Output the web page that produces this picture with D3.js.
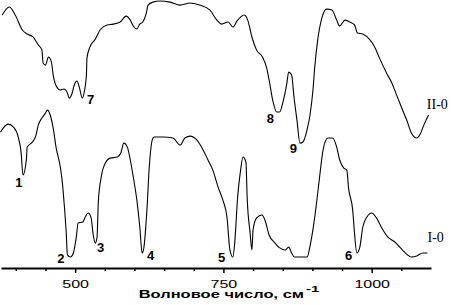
<!DOCTYPE html>
<html>
<head>
<meta charset="utf-8">
<script src="https://cdn.jsdelivr.net/npm/d3@7"></script>
<style>
  body { margin: 0; background: #fff; }
  svg { display: block; }
</style>
</head>
<body>
<svg class="spectrum"></svg>
<script>
// wavenumber, cm-1 and transmission, %
const wnII = [377, 389, 399, 411, 419, 429, 438, 444, 446, 450, 455, 460, 463, 470, 475, 481, 487, 490, 495, 498,
  503, 507, 512, 515, 519, 520, 525, 534, 542, 554, 564, 576, 586, 593, 598, 604, 609, 614, 620, 623,
  631, 643, 660, 677, 694, 710, 727, 739, 747, 758, 766, 773, 785, 791, 798, 806, 816, 823, 828, 833,
  840, 845, 850, 857, 860, 865, 869, 874, 879, 884, 891, 896, 901, 904, 909, 916, 924, 933, 941, 946,
  955, 963, 971, 976, 985, 997, 1005, 1013, 1025, 1034, 1042, 1050, 1059, 1067, 1076, 1081, 1088, 1096]
const tII = [94.4, 97.4, 94.4, 88.8, 87.3, 86.2, 83.2, 81.3, 76.5, 75.7, 78.7, 76.9, 72.0, 67.2, 66.4, 66.8, 65.3, 63.4, 65.3, 67.9,
  69.8, 67.5, 63.4, 65.3, 72.0, 78.4, 82.5, 85.4, 88.8, 90.7, 91.0, 91.8, 94.0, 92.5, 90.3, 89.2, 91.0, 91.8, 95.1, 98.1,
  99.2, 99.6, 99.2, 98.1, 98.9, 98.1, 96.3, 92.5, 91.0, 91.8, 89.9, 92.2, 94.4, 92.5, 86.2, 81.3, 78.7, 74.6, 69.0, 62.7,
  58.2, 58.2, 61.6, 69.0, 73.1, 72.0, 63.8, 55.2, 46.6, 47.0, 51.5, 57.1, 66.4, 75.0, 85.1, 93.3, 96.6, 96.3, 92.5, 90.3,
  92.5, 91.8, 90.7, 87.7, 87.3, 85.1, 82.5, 78.4, 72.8, 69.0, 64.5, 60.1, 55.2, 50.4, 48.5, 49.6, 53.4, 57.1]

const wnI = [374, 387, 396, 404, 409, 412, 418, 419, 428, 433, 438, 444, 450, 453, 458, 463, 468, 475, 478, 481,
  485, 487, 492, 497, 502, 505, 513, 517, 522, 527, 530, 534, 537, 539, 544, 551, 559, 571, 577, 582,
  588, 593, 598, 604, 609, 613, 616, 621, 625, 630, 633, 648, 665, 677, 685, 694, 705, 714, 724, 732,
  741, 749, 756, 761, 766, 769, 774, 779, 783, 788, 790, 795, 798, 800, 806, 815, 820, 827, 837, 845,
  854, 860, 865, 870, 891, 897, 904, 911, 918, 926, 934, 941, 946, 953, 958, 961, 968, 971, 975, 980,
  985, 992, 1000, 1008, 1017, 1027, 1039, 1052, 1067, 1076, 1086, 1094]
const tI = [50.7, 53.7, 52.6, 48.9, 42.9, 34.7, 41.0, 45.1, 47.0, 48.9, 53.4, 56.0, 57.8, 58.9, 57.1, 52.2, 44.8, 37.7, 32.8, 25.4,
  13.1, 4.9, 4.1, 5.6, 11.6, 16.8, 17.2, 19.0, 20.5, 18.7, 13.1, 9.3, 11.6, 24.3, 34.0, 39.2, 41.0, 41.4, 42.9, 46.6,
  45.1, 40.3, 34.0, 25.4, 15.3, 5.6, 7.8, 21.6, 37.7, 47.8, 48.9, 48.9, 48.5, 45.9, 48.5, 49.2, 47.8, 44.8, 40.3, 36.6,
  30.2, 25.4, 19.0, 6.7, 4.1, 9.3, 26.5, 36.6, 41.4, 39.5, 26.5, 13.1, 6.7, 14.2, 18.7, 19.8, 17.9, 12.3, 9.3, 7.5,
  6.7, 7.8, 5.6, 4.1, 4.1, 9.3, 19.0, 31.7, 44.0, 48.5, 48.5, 45.1, 40.3, 37.3, 36.6, 29.8, 21.6, 13.1, 5.6, 7.8,
  15.3, 19.0, 20.5, 18.7, 14.9, 11.6, 9.7, 6.7, 4.1, 4.5, 5.6, 5.6]

const majorTicks = [500, 750, 1000]
const minorTicks = [400, 450, 550, 600, 650, 700, 800, 850, 900, 950, 1050]

// band numbers and curve names, placed in data units
const labelText = ["1", "2", "3", "4", "5", "6", "7", "8", "9"]
const labelWn = [399, 470, 537, 621, 741, 955, 520, 823, 862]
const labelT = [30.2, 1.9, 6.0, 3.0, 2.2, 3.0, 61.2, 54.1, 42.9]
const curveNames = ["II-0", "I-0"]
const curveNameWn = [1093, 1094]
const curveNameT = [59.5, 9.6]

const W = 451
const H = 305
const squash = 0.63 // the original lettering is flattened vertically

const svg = d3.select('svg.spectrum').attr('width', W).attr('height', H)

const x = d3.scaleLinear().domain([375, 1100]).range([1, 431])
const y = d3.scaleLinear().domain([0, 100]).range([268, 0])

const line = d3.line()
  .x(d => x(d[0]))
  .y(d => y(d[1]))
  .curve(d3.curveMonotoneX)

const curves = [d3.zip(wnII, tII), d3.zip(wnI, tI)]

svg.selectAll('path.spec')
  .data(curves)
  .enter()
  .append('path')
  .attr('class', 'spec')
  .attr('d', line)
  .attr('fill', 'none')
  .attr('stroke', '#000')
  .attr('stroke-width', 1.1)

// minor ticks
svg.append('g')
  .attr('transform', `translate(0, ${y(0)})`)
  .call(d3.axisBottom(x).tickValues(minorTicks).tickSize(3).tickSizeOuter(0).tickFormat(''))
  .call(g => g.select('.domain').remove())
  .call(g => g.selectAll('line').attr('stroke-width', 1.5))

// major ticks + labels
const axis = svg.append('g')
  .attr('transform', `translate(0, ${y(0)})`)
  .call(d3.axisBottom(x).tickValues(majorTicks).tickSize(5).tickSizeOuter(0).tickFormat(d3.format('d')))

axis.select('.domain').attr('stroke-width', 1.8)
axis.selectAll('line').attr('stroke-width', 1.5)
axis.selectAll('text')
  .attr('y', 0)
  .attr('dy', 0)
  .attr('transform', `translate(0, 20) scale(1, ${squash})`)
  .style('font-family', 'Liberation Sans, Arial, sans-serif')
  .style('font-size', '16px')
  .attr('fill', '#000')

// axis title
const title = svg.append('text')
  .attr('transform', `translate(229, 298) scale(1, ${squash})`)
  .attr('text-anchor', 'middle')
  .style('font-family', 'Liberation Sans, Arial, sans-serif')
  .style('font-size', '16.5px')
  .style('font-weight', 'bold')
title.append('tspan').text('Волновое число, см')
title.append('tspan').attr('dx', 2).attr('dy', -10).style('font-size', '15px').text('-1')

// band numbers
svg.selectAll('text.band')
  .data(labelText)
  .enter()
  .append('text')
  .attr('class', 'band')
  .attr('x', (d, i) => x(labelWn[i]))
  .attr('y', (d, i) => y(labelT[i]))
  .style('font-family', 'Liberation Sans, Arial, sans-serif')
  .style('font-size', '13px')
  .style('font-weight', 'bold')
  .text(d => d)

// curve names
svg.selectAll('text.name')
  .data(curveNames)
  .enter()
  .append('text')
  .attr('class', 'name')
  .attr('x', (d, i) => x(curveNameWn[i]))
  .attr('y', (d, i) => y(curveNameT[i]))
  .style('font-family', 'Liberation Serif, Times New Roman, serif')
  .style('font-size', '14px')
  .text(d => d)
</script>
</body>
</html>
